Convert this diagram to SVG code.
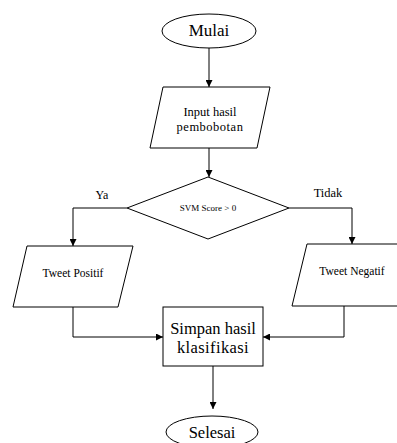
<svg xmlns="http://www.w3.org/2000/svg" width="397" height="443" viewBox="0 0 397 443">
<style>
.s{fill:#fff;stroke:#000;stroke-width:1}
.c{fill:none;stroke:#000;stroke-width:1}
.t{fill:#000;text-anchor:middle}
</style>
<defs>
<marker id="a" viewBox="0 0 10 10" refX="10" refY="5" markerWidth="7" markerHeight="7" markerUnits="userSpaceOnUse" orient="auto">
<path d="M0,0 L10,5 L0,10 Z" fill="#000"/>
</marker>
</defs>
<rect width="397" height="443" fill="#fff"/>
<g id="connectors">
<path class="c" d="M209,48 V87" marker-end="url(#a)"/>
<path class="c" d="M209,148 V177" marker-end="url(#a)"/>
<path class="c" d="M127,208 H73 V246" marker-end="url(#a)"/>
<path class="c" d="M289,208 H352 V244" marker-end="url(#a)"/>
<path class="c" d="M73,307 V337 H163" marker-end="url(#a)"/>
<path class="c" d="M344,306 V337 H263" marker-end="url(#a)"/>
<path class="c" d="M213,366 V409" marker-end="url(#a)"/>
<text class="t" x="102" y="199" font-size="12" style="font-family:'Liberation Serif',serif">Ya</text>
<text class="t" x="328" y="197" font-size="12.5" style="font-family:'Liberation Serif',serif">Tidak</text>
</g>
<g id="mulai">
<ellipse class="s" cx="209" cy="31" rx="47" ry="17"/>
<text class="t" x="209" y="36" font-size="17" style="font-family:'Liberation Serif',serif">Mulai</text>
</g>
<g id="input">
<polygon class="s" points="163,87 270,87 257,148 150,148"/>
<text class="t" x="210" y="116" font-size="12.5" style="font-family:'Liberation Serif',serif">Input hasil</text>
<text class="t" x="210" y="131" font-size="12.5" letter-spacing="0.5" style="font-family:'Liberation Serif',serif">pembobotan</text>
</g>
<g id="decision">
<polygon class="s" points="208,177 289,208 208,239 127,208"/>
<text class="t" x="208" y="211" font-size="9" style="font-family:'Liberation Serif',serif">SVM Score &gt; 0</text>
</g>
<g id="positif">
<polygon class="s" points="27,246 133,246 118,307 13,307"/>
<text class="t" x="73" y="277" font-size="11.5" style="font-family:'Liberation Serif',serif">Tweet Positif</text>
</g>
<g id="negatif">
<polygon class="s" points="307,244 412,244 398,306 292,306"/>
<text class="t" x="352" y="275" font-size="11.5" style="font-family:'Liberation Serif',serif">Tweet Negatif</text>
</g>
<g id="simpan">
<rect class="s" x="163" y="307" width="100" height="59"/>
<text class="t" x="213" y="334" font-size="16.5" style="font-family:'Liberation Serif',serif">Simpan hasil</text>
<text class="t" x="213" y="353" font-size="16.5" letter-spacing="0.4" style="font-family:'Liberation Serif',serif">klasifikasi</text>
</g>
<g id="selesai">
<ellipse class="s" cx="212" cy="432" rx="46" ry="16"/>
<text class="t" x="212" y="438" font-size="16.5" style="font-family:'Liberation Serif',serif">Selesai</text>
</g>
</svg>
